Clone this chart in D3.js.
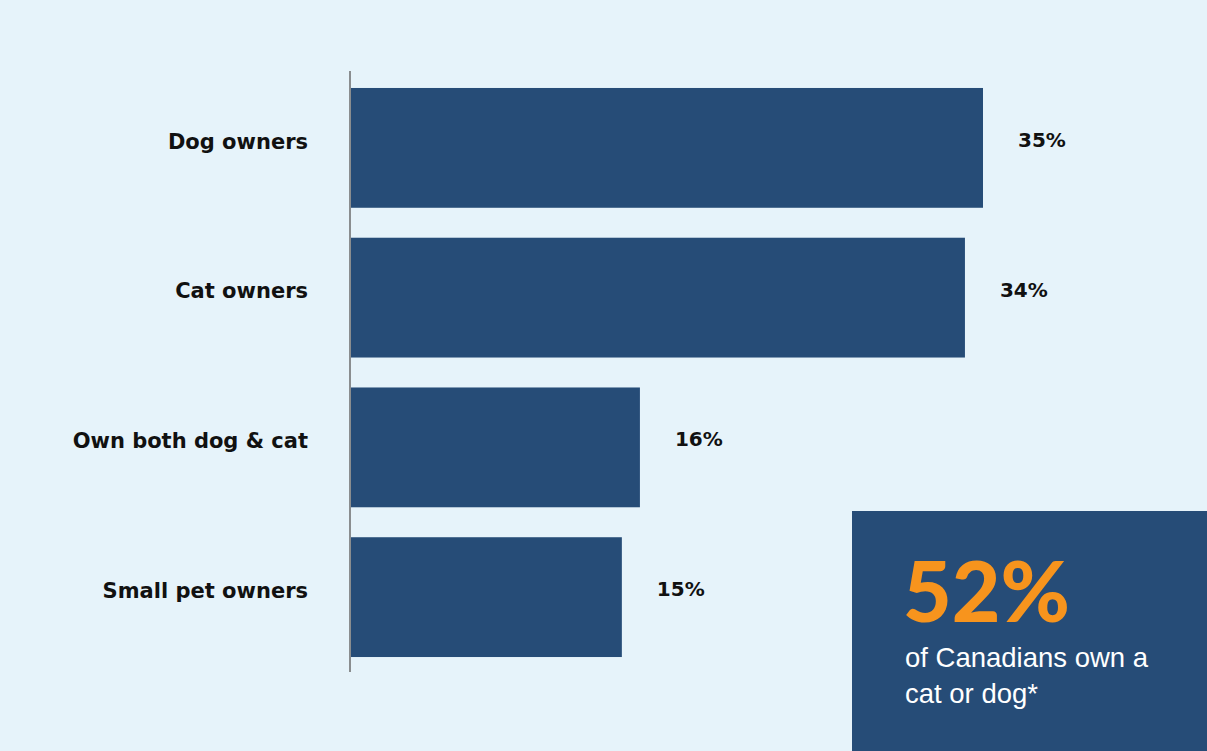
<!DOCTYPE html>
<html>
<head>
<meta charset="utf-8">
<script src="https://cdn.jsdelivr.net/npm/d3@7"></script>
<style>
  body { margin: 0; background: #e6f3fa; }
  svg { display: block; }
</style>
</head>
<body>
<div id="chart"></div>
<script>
var categories = ["Dog owners", "Cat owners", "Own both dog & cat", "Small pet owners"];
var values = [35, 34, 16, 15];
var calloutValue = "52%";
var calloutLines = ["of Canadians own a", "cat or dog*"];

var width = 1207;
var height = 751;
var barColor = "#264c77";
var labelFont = "'DejaVu Sans', 'Open Sans', sans-serif";

var svg = d3.select("#chart").append("svg")
    .attr("width", width)
    .attr("height", height);

svg.append("rect")
    .attr("width", width).attr("height", height)
    .attr("fill", "#e6f3fa");

// x scale: 0 at the axis line
var x = d3.scaleLinear().domain([0, 35]).range([351, 983]);
var y = d3.scaleBand().domain(categories).range([73, 672]).paddingInner(0.2).paddingOuter(0.1);

svg.selectAll("rect.bar")
    .data(values).enter().append("rect")
    .attr("class", "bar")
    .attr("x", x(0))
    .attr("y", (d, i) => y(categories[i]))
    .attr("width", d => x(d) - x(0))
    .attr("height", y.bandwidth())
    .attr("fill", barColor);

// axis line (left)
var axis = svg.append("g")
    .attr("transform", "translate(350,0)")
    .call(d3.axisLeft(y).tickSize(0).tickPadding(42).tickFormat(d => d));
axis.select(".domain").attr("d", "M0,71V672").attr("stroke", "#6b6b6b").attr("stroke-width", 1.5);
axis.selectAll("text")
    .attr("font-family", labelFont).attr("font-weight", 700)
    .attr("font-size", "21px").attr("fill", "#111")
    .attr("transform", "translate(0,-6)");

// value labels
svg.selectAll("text.val")
    .data(values).enter().append("text")
    .attr("class", "val")
    .attr("x", d => x(d) + 35)
    .attr("y", (d, i) => y(categories[i]) + y.bandwidth() / 2 - 8)
    .attr("dy", "0.35em")
    .attr("font-family", labelFont).attr("font-weight", 700)
    .attr("font-size", "20px").attr("fill", "#111")
    .text(d => d + "%");

// callout box
var box = svg.append("g").attr("transform", "translate(852,511)");
box.append("rect")
    .attr("width", width - 852).attr("height", height - 511)
    .attr("fill", barColor);
box.append("text")
    .attr("x", 51).attr("y", 111)
    .attr("font-family", "Lato, 'Open Sans', sans-serif").attr("font-weight", 900)
    .attr("font-size", "84px").attr("fill", "#f7941d")
    .text(calloutValue);
box.selectAll("text.line")
    .data(calloutLines).enter().append("text")
    .attr("class", "line")
    .attr("x", 53)
    .attr("y", (d, i) => 156 + i * 36)
    .attr("font-family", "'Liberation Sans', Arial, sans-serif")
    .attr("font-size", "27.5px").attr("fill", "#ffffff")
    .text(d => d);
</script>
</body>
</html>
